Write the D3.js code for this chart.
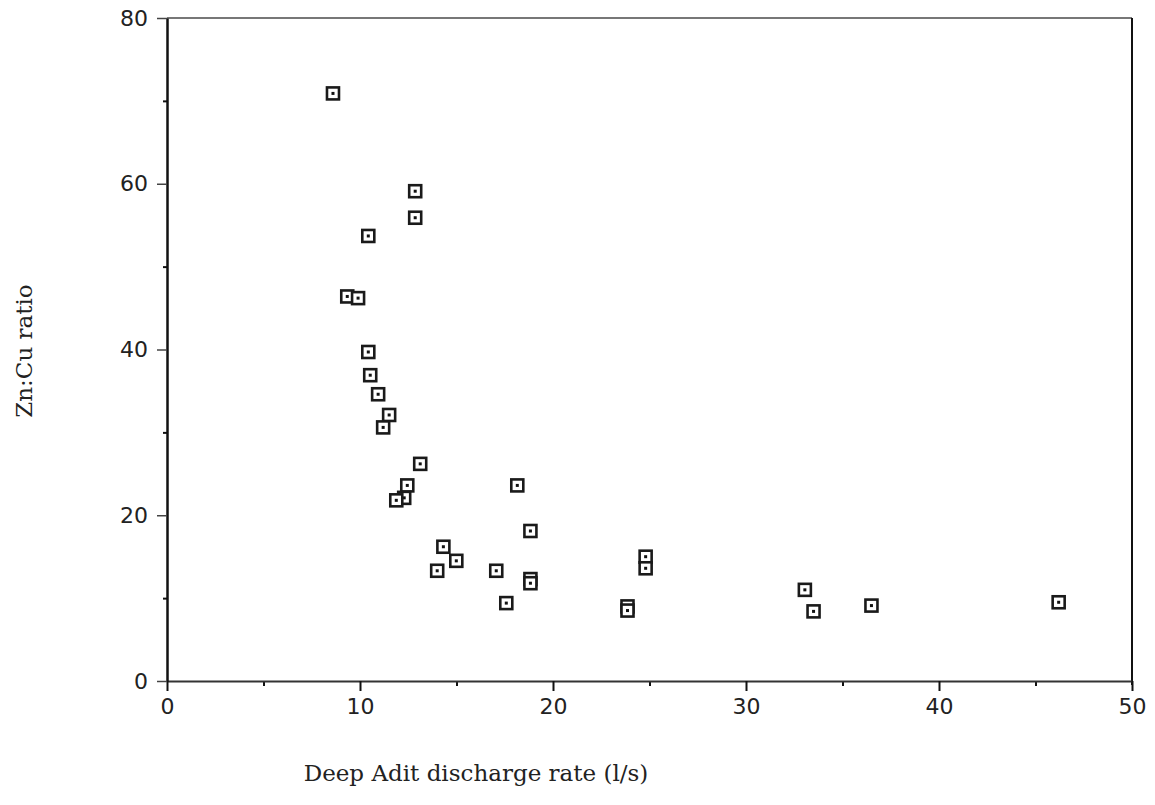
<!DOCTYPE html>
<html lang="en">
  <head>
    <meta charset="utf-8" />
    <title>Zn:Cu ratio vs Deep Adit discharge</title>
    <script src="https://d3js.org/d3.v7.min.js"></script>
    <style type="text/css">
      body {
        margin: 0;
        background: #fff;
      }
      svg {
        display: block;
      }
      .tick text {
        font-family: "DejaVu Sans", "Liberation Sans", sans-serif;
        font-size: 22px;
        fill: #222;
      }
      .title {
        font-family: "DejaVu Serif", "Liberation Serif", serif;
        font-size: 23px;
        fill: #222;
      }
    </style>
  </head>
  <body>
    <svg id="chart" width="1155" height="805"></svg>

    <script type="text/javascript">
      // discharge rate (l/s) and Zn:Cu ratio
      const discharge = [8.6, 12.86, 12.86, 10.43, 9.34, 9.9, 10.43, 10.53, 10.94, 11.51,
                         11.2, 13.12, 12.45, 12.29, 11.88, 18.15, 14.32, 14.0, 14.99, 18.83,
                         17.06, 18.83, 18.83, 17.58, 24.8, 24.8, 23.86, 23.86, 33.05, 33.5,
                         36.5, 46.2];
      const ratio = [70.9, 59.1, 55.9, 53.7, 46.4, 46.2, 39.7, 36.9, 34.6, 32.1,
                     30.6, 26.2, 23.6, 22.1, 21.8, 23.6, 16.2, 13.3, 14.5, 18.1,
                     13.3, 12.3, 11.8, 9.4, 15.0, 13.6, 9.0, 8.5, 11.0, 8.4,
                     9.1, 9.5];
      const xTicks = [0, 10, 20, 30, 40, 50];
      const yTicks = [0, 20, 40, 60, 80];
      const xMinor = [5, 15, 25, 35, 45];
      const yMinor = [10, 30, 50, 70];

      const points = discharge.map((d, i) => ({x: d, y: ratio[i]}));

      const mLeft = 167, mRight = 1132, mTop = 18, mBottom = 681;
      const svg = d3.select("#chart");

      const x = d3.scaleLinear().domain([0, 50]).range([mLeft, mRight]);
      const y = d3.scaleLinear().domain([0, 80]).range([mBottom, mTop]);

      // frame: top and right edges
      svg.append("line")
          .attr("x1", mLeft).attr("x2", mRight)
          .attr("y1", mTop).attr("y2", mTop)
          .attr("stroke", "#777").attr("stroke-width", 2);
      svg.append("line")
          .attr("x1", mRight).attr("x2", mRight)
          .attr("y1", mTop).attr("y2", mBottom + 4)
          .attr("stroke", "#111").attr("stroke-width", 2);

      // minor ticks
      svg.append("g")
          .attr("transform", `translate(0,${mBottom})`)
          .call(d3.axisBottom(x).tickValues(xMinor).tickSize(5).tickFormat(""))
          .call(g => g.select(".domain").remove())
          .selectAll("line").attr("stroke", "#111").attr("stroke-width", 2);
      svg.append("g")
          .attr("transform", `translate(${mLeft},0)`)
          .call(d3.axisLeft(y).tickValues(yMinor).tickSize(4).tickFormat(""))
          .call(g => g.select(".domain").remove())
          .selectAll("line").attr("stroke", "#111").attr("stroke-width", 2);

      // major axes
      const xAxis = svg.append("g")
          .attr("transform", `translate(0,${mBottom})`)
          .call(d3.axisBottom(x).tickValues(xTicks).tickSize(10).tickPadding(7).tickSizeOuter(0));
      xAxis.select(".domain").attr("stroke", "#333").attr("stroke-width", 2);
      xAxis.selectAll(".tick line").attr("stroke", "#111").attr("stroke-width", 2);

      const yAxis = svg.append("g")
          .attr("transform", `translate(${mLeft},0)`)
          .call(d3.axisLeft(y).tickValues(yTicks).tickSize(10).tickPadding(9).tickSizeOuter(0));
      yAxis.select(".domain").attr("stroke", "#111").attr("stroke-width", 2.5);
      yAxis.selectAll(".tick line").attr("stroke", "#444").attr("stroke-width", 1.5);

      // square markers with a dot in the middle
      const s = 12;
      const marks = svg.append("g").selectAll("g")
          .data(points)
          .enter()
          .append("g")
          .attr("transform", d => `translate(${x(d.x)},${y(d.y)})`);
      marks.append("rect")
          .attr("x", -s / 2).attr("y", -s / 2)
          .attr("width", s).attr("height", s)
          .attr("fill", "#fff")
          .attr("stroke", "#1a1a1a")
          .attr("stroke-width", 2.6);
      marks.append("rect")
          .attr("x", -1.5).attr("y", -1.5)
          .attr("width", 3).attr("height", 3)
          .attr("fill", "#111");

      // axis titles
      svg.append("text")
          .attr("class", "title")
          .attr("x", 476).attr("y", 781)
          .attr("text-anchor", "middle")
          .text("Deep Adit discharge rate (l/s)");
      svg.append("text")
          .attr("class", "title")
          .attr("transform", "translate(32,351) rotate(-90)")
          .attr("text-anchor", "middle")
          .text("Zn:Cu ratio");
    </script>
  </body>
</html>
